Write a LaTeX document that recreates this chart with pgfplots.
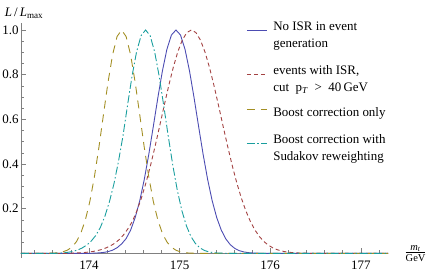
\documentclass[border=0pt]{standalone}
\usepackage{fontspec}
\setmainfont{Liberation Serif}
\usepackage{amsmath}
\usepackage{pgfplots}
\pgfplotsset{compat=1.18}
\definecolor{cblue}{rgb}{0.30,0.30,0.70}
\definecolor{cred}{rgb}{0.64,0.26,0.26}
\definecolor{colive}{rgb}{0.64,0.56,0.14}
\definecolor{cteal}{rgb}{0.10,0.62,0.62}
\begin{document}
\begin{tikzpicture}
\begin{axis}[
  scale only axis, width=367bp, height=234.5bp,
  xmin=173.25, xmax=177.3, ymin=-0.02, ymax=1.03,
  axis x line=middle, axis y line=left,
  axis line style={-, draw=gray, line width=0.6pt},
  every inner x axis line/.append style={-},
  every outer y axis line/.append style={-},
  xtick={174,175,176,177},
  ytick={0.2,0.4,0.6,0.8,1.0},
  minor xtick={173.4,173.6,173.8,174.2,174.4,174.6,174.8,175.2,175.4,175.6,175.8,176.2,176.4,176.6,176.8,177.2},
  minor ytick={0.05,0.1,0.15,0.25,0.3,0.35,0.45,0.5,0.55,0.65,0.7,0.75,0.85,0.9,0.95},
  tick align=inside,
  major tick length=5bp, minor tick length=3bp,
  every tick/.style={gray, line width=0.5pt},
  /pgf/number format/assume math mode=true,
  ticklabel style={font=\fontsize{13}{15}\selectfont},
  yticklabel style={/pgf/number format/.cd, fixed, fixed zerofill, precision=1, /tikz/.cd, inner xsep=2bp},
  xticklabel style={yshift=-4bp},
  xlabel={$\frac{\text{\textit{m}}_{\text{\textit{t}}}}{\text{GeV}}$},
  every axis x label/.style={at={(current axis.right of origin)}, anchor=west, inner sep=0pt, xshift=16bp, font=\fontsize{15}{17}\selectfont},
  ylabel={\textit{L}\,/\,\textit{L}\textsubscript{max}},
  every axis y label/.style={at={(axis description cs:0,1)}, anchor=base west, xshift=-20bp, yshift=7bp, font=\fontsize{13}{15}\selectfont},
  legend style={at={(axis description cs:0.613,1.03)}, anchor=north west, draw=none, fill=none, inner sep=0pt, row sep=10bp,
    column sep=4bp, font=\fontsize{13}{17}\selectfont},
  legend cell align=left,
  legend image code/.code={\draw[#1] (0bp,3.5bp) -- (20bp,3.5bp);},
  line width=0.9pt,
]
\addplot[cblue, solid] coordinates {
(173.25,0) (174.01,0) (174.06,0.001) (174.11,0.002) (174.16,0.004) (174.21,0.0075) (174.26,0.014) (174.31,0.025) (174.36,0.042)
(174.41,0.066) (174.46,0.1041) (174.51,0.1599) (174.56,0.2350) (174.61,0.3299) (174.66,0.4427) (174.71,0.5679) (174.76,0.6962)
(174.81,0.8157) (174.86,0.9135) (174.91,0.9776) (174.96,1) (175.01,0.9776) (175.06,0.9135) (175.11,0.8157) (175.16,0.6962)
(175.21,0.5679) (175.26,0.4427) (175.31,0.3299) (175.36,0.2350) (175.41,0.1599) (175.46,0.1041) (175.51,0.0647) (175.56,0.0384)
(175.61,0.0218) (175.66,0.0118) (175.71,0.0062) (175.76,0.0031) (175.81,0.0014) (175.86,0.0007) (175.91,0) (177.3,0)};
\addlegendentry{\begin{tabular}[b]{@{}l@{}}No ISR in event\\generation\end{tabular}}
\addplot[cred, dash pattern=on 4bp off 3bp] coordinates {
(173.25,0) (173.78,0) (173.83,0.001) (173.88,0.002) (173.93,0.003) (173.98,0.005) (174.03,0.0075) (174.08,0.011) (174.13,0.016)
(174.18,0.023) (174.23,0.032) (174.28,0.044) (174.33,0.060) (174.38,0.082) (174.43,0.11) (174.48,0.1437) (174.53,0.1915)
(174.58,0.2494) (174.63,0.3173) (174.68,0.3947) (174.73,0.4797) (174.78,0.5698) (174.83,0.6615) (174.88,0.7505) (174.93,0.8322)
(174.98,0.9019) (175.03,0.9551) (175.08,0.9886) (175.13,1) (175.18,0.9886) (175.23,0.9551) (175.28,0.9019) (175.33,0.8322)
(175.38,0.7505) (175.43,0.6615) (175.48,0.5698) (175.53,0.4797) (175.58,0.3947) (175.63,0.3173) (175.68,0.2494) (175.73,0.1915)
(175.78,0.1437) (175.83,0.1054) (175.88,0.0756) (175.93,0.0530) (175.98,0.0363) (176.03,0.0243) (176.08,0.0159) (176.13,0.0101)
(176.18,0.0063) (176.23,0.0039) (176.28,0.0023) (176.33,0.0014) (176.38,0.0008) (176.43,0) (177.3,0)};
\addlegendentry{\begin{tabular}[b]{@{}l@{}}events with ISR,\\cut\ \ p\textsubscript{\textit{T}}\ \ >\ \ 40\,GeV\end{tabular}}
\addplot[colive, dash pattern=on 8bp off 6bp] coordinates {
(173.25,0) (173.51,0) (173.56,0.0005) (173.61,0.0012) (173.66,0.0029) (173.71,0.0066) (173.76,0.0138) (173.81,0.0273) (173.86,0.0511)
(173.91,0.0899) (173.96,0.1491) (174.01,0.2329) (174.06,0.3428) (174.11,0.4754) (174.16,0.6213) (174.21,0.7651) (174.26,0.8878)
(174.31,0.9707) (174.36,1) (174.41,0.9707) (174.46,0.8878) (174.51,0.7651) (174.56,0.6213) (174.61,0.4754) (174.66,0.3428)
(174.71,0.2329) (174.76,0.1491) (174.81,0.0899) (174.86,0.0511) (174.91,0.0273) (174.96,0.0138) (175.01,0.0066) (175.06,0.0029)
(175.11,0.0012) (175.16,0.0005) (175.21,0) (177.3,0)};
\addlegendentry{Boost correction only}
\addplot[cteal, dash pattern=on 8bp off 2.5bp on 1.5bp off 2.5bp] coordinates {
(173.25,0) (173.625,0) (173.675,0.001) (173.725,0.0025) (173.775,0.005) (173.825,0.009) (173.875,0.015) (173.925,0.024) (173.975,0.037)
(174.025,0.055) (174.075,0.08) (174.125,0.115) (174.175,0.165) (174.225,0.23) (174.275,0.31) (174.325,0.41) (174.375,0.525)
(174.425,0.6615) (174.475,0.7926) (174.525,0.9018) (174.575,0.9745) (174.625,1) (174.675,0.9745) (174.725,0.9018) (174.775,0.7926)
(174.825,0.6615) (174.875,0.5243) (174.925,0.3946) (174.975,0.2820) (175.025,0.1914) (175.075,0.1234) (175.125,0.0755) (175.175,0.0439)
(175.225,0.0242) (175.275,0.0127) (175.325,0.0063) (175.375,0.0030) (175.425,0.0013) (175.475,0.0006) (175.525,0) (177.3,0)};
\addlegendentry{\begin{tabular}[b]{@{}l@{}}Boost correction with\\Sudakov reweighting\end{tabular}}
\end{axis}
\pgfresetboundingbox
\path (-21bp,-14.2bp) rectangle (415bp,257.8bp);
\end{tikzpicture}
\end{document}
